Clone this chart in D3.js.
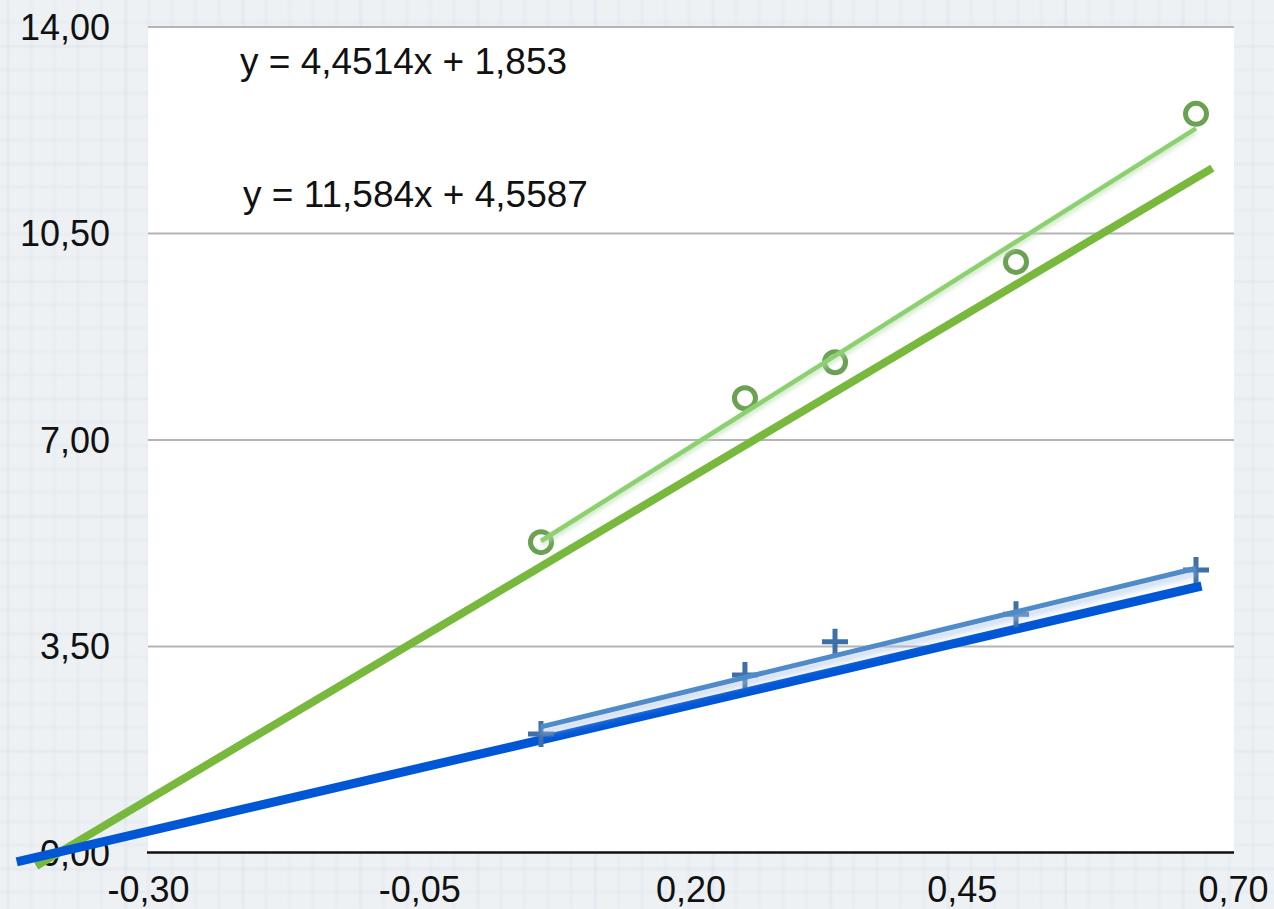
<!DOCTYPE html>
<html>
<head>
<meta charset="utf-8">
<script src="https://cdn.jsdelivr.net/npm/d3@7"></script>
<style>
  html, body { margin: 0; padding: 0; background: #eef1f4; }
  svg { display: block; }
</style>
</head>
<body>
<svg id="chart" width="1274" height="909"></svg>
<script>
// ---- data ----
const xValues = [0.0622, 0.2502, 0.3332, 0.5000, 0.6659];
const seriesA = [5.26, 7.70, 8.31, 10.01, 12.52];   // circles (green)
const seriesB = [2.01, 3.01, 3.57, 4.04, 4.79];     // crosses (blue)

// linear fits as printed on the chart
const fitA = { slope: 11.584, intercept: 4.5587 };
const fitB = { slope: 4.4514, intercept: 1.853 };
const fitLabels = ["y = 4,4514x + 1,853", "y = 11,584x + 4,5587"];

// reference lines (two end points each)
const refLineA = [[-0.403, -0.23], [0.681, 11.60]];
const refLineB = [[-0.421, -0.16], [0.671, 4.517]];

const xTicks = [-0.30, -0.05, 0.20, 0.45, 0.70];
const yTicks = [0, 3.5, 7, 10.5, 14];

// ---- setup ----
const W = 1274, H = 909;
const svg = d3.select("#chart");
const locale = d3.formatLocale({ decimal: ",", thousands: ".", grouping: [3], currency: ["", ""], minus: "-" });
const fmt = locale.format(".2f");

const x = d3.scaleLinear().domain([-0.30, 0.70]).range([148, 1233]);
const y = d3.scaleLinear().domain([0, 14]).range([852.5, 26.5]);

const defs = svg.append("defs");

// graph-paper backdrop
const cell = 23.5;
const pat = defs.append("pattern")
  .attr("id", "paper").attr("patternUnits", "userSpaceOnUse")
  .attr("x", 7.5).attr("y", 46).attr("width", cell * 5).attr("height", cell * 5);
pat.append("rect").attr("width", cell * 5).attr("height", cell * 5).attr("fill", "#edf1f4");
for (let i = 1; i < 5; i++) {
  pat.append("line").attr("x1", i * cell).attr("x2", i * cell).attr("y1", 0).attr("y2", cell * 5)
    .attr("stroke", "#dfe6ed").attr("stroke-width", 1.3);
  pat.append("line").attr("y1", i * cell).attr("y2", i * cell).attr("x1", 0).attr("x2", cell * 5)
    .attr("stroke", "#dfe6ed").attr("stroke-width", 1.3);
}
pat.append("line").attr("x1", 0).attr("x2", 0).attr("y1", 0).attr("y2", cell * 5)
  .attr("stroke", "#d3dce6").attr("stroke-width", 2.2);
pat.append("line").attr("y1", 0).attr("y2", 0).attr("x1", 0).attr("x2", cell * 5)
  .attr("stroke", "#d3dce6").attr("stroke-width", 2.2);

const soft = defs.append("filter").attr("id", "soft");
soft.append("feGaussianBlur").attr("stdDeviation", 0.9);

svg.append("rect").attr("width", W).attr("height", H).attr("fill", "url(#paper)").attr("filter", "url(#soft)");

// glow under the fit lines
function addShadow(id, color, dy, blur, op) {
  const f = defs.append("filter").attr("id", id)
    .attr("x", "-10%").attr("y", "-50%").attr("width", "120%").attr("height", "200%");
  f.append("feGaussianBlur").attr("in", "SourceAlpha").attr("stdDeviation", blur).attr("result", "b");
  f.append("feOffset").attr("in", "b").attr("dy", dy).attr("result", "o");
  f.append("feFlood").attr("flood-color", color).attr("flood-opacity", op);
  f.append("feComposite").attr("in2", "o").attr("operator", "in").attr("result", "s");
  const m = f.append("feMerge");
  m.append("feMergeNode").attr("in", "s");
  m.append("feMergeNode").attr("in", "SourceGraphic");
}
addShadow("shadowA", "#b9dcae", 3, 2.5, 0.8);
addShadow("shadowB", "#aac4e6", 5, 3, 0.8);

// plot area
svg.append("rect")
  .attr("x", x.range()[0]).attr("y", y(14))
  .attr("width", x.range()[1] - x.range()[0] + 1).attr("height", y(0) - y(14))
  .attr("fill", "#ffffff");

// horizontal gridlines
svg.append("g")
  .attr("transform", `translate(${x.range()[0]},0)`)
  .call(d3.axisLeft(y).tickValues(yTicks.filter(d => d > 0))
    .tickSize(-(x.range()[1] - x.range()[0] + 1)).tickFormat(""))
  .call(g => g.select(".domain").remove())
  .call(g => g.selectAll("line").attr("stroke", "#b4b4b4").attr("stroke-width", 2));

// y tick labels
svg.append("g")
  .attr("transform", "translate(110,0)")
  .call(d3.axisLeft(y).tickValues(yTicks).tickSize(0).tickPadding(0).tickFormat(fmt))
  .call(g => g.select(".domain").remove())
  .call(g => g.selectAll("text")
    .attr("font-family", "'Liberation Sans', Arial, sans-serif")
    .attr("font-size", 36).attr("fill", "#111").attr("dy", "0.36em"));

// x axis
svg.append("g")
  .attr("transform", `translate(0,${y(0)})`)
  .call(d3.axisBottom(x).tickValues(xTicks).tickSize(0).tickPadding(24).tickFormat(fmt))
  .call(g => g.select(".domain").attr("stroke", "#111").attr("stroke-width", 2.5)
    .attr("d", `M${x.range()[0] - 1},0H${x.range()[1] + 1}`))
  .call(g => g.selectAll("text")
    .attr("font-family", "'Liberation Sans', Arial, sans-serif")
    .attr("font-size", 36).attr("fill", "#111"));

// fit equations
svg.append("g").selectAll("text")
  .data(fitLabels)
  .join("text")
  .attr("x", (d, i) => [240, 243][i])
  .attr("y", (d, i) => [74, 207][i])
  .attr("font-family", "'Liberation Sans', Arial, sans-serif")
  .attr("font-size", 37).attr("fill", "#111")
  .text(d => d);

const line = d3.line().x(d => x(d[0])).y(d => y(d[1]));

// reference lines
svg.append("path").datum(refLineA).attr("d", line)
  .attr("fill", "none").attr("stroke", "#78b93d").attr("stroke-width", 8);
svg.append("path").datum(refLineB).attr("d", line)
  .attr("fill", "none").attr("stroke", "#0057d6").attr("stroke-width", 9);

// markers
svg.append("g").selectAll("circle")
  .data(xValues.map((v, i) => [v, seriesA[i]]))
  .join("circle")
  .attr("cx", d => x(d[0])).attr("cy", d => y(d[1])).attr("r", 10.5)
  .attr("fill", "none").attr("stroke", "#6aa152").attr("stroke-width", 5);

svg.append("g").selectAll("path")
  .data(xValues.map((v, i) => [v, seriesB[i]]))
  .join("path")
  .attr("transform", d => `translate(${x(d[0])},${y(d[1])})`)
  .attr("d", "M-13,0H13M0,-13V13")
  .attr("fill", "none").attr("stroke", "#3d6fa8").attr("stroke-width", 5);

// fit lines over the data range
const xMin = d3.min(xValues), xMax = d3.max(xValues);
function fitPoints(f) {
  return [[xMin, f.slope * xMin + f.intercept], [xMax, f.slope * xMax + f.intercept]];
}
svg.append("path").datum(fitPoints(fitA)).attr("d", line)
  .attr("fill", "none").attr("stroke", "#8dd06f").attr("stroke-width", 4.5)
  .attr("filter", "url(#shadowA)");
svg.append("path").datum(fitPoints(fitB)).attr("d", line)
  .attr("fill", "none").attr("stroke", "#4f8ac9").attr("stroke-width", 5)
  .attr("filter", "url(#shadowB)");
</script>
</body>
</html>
